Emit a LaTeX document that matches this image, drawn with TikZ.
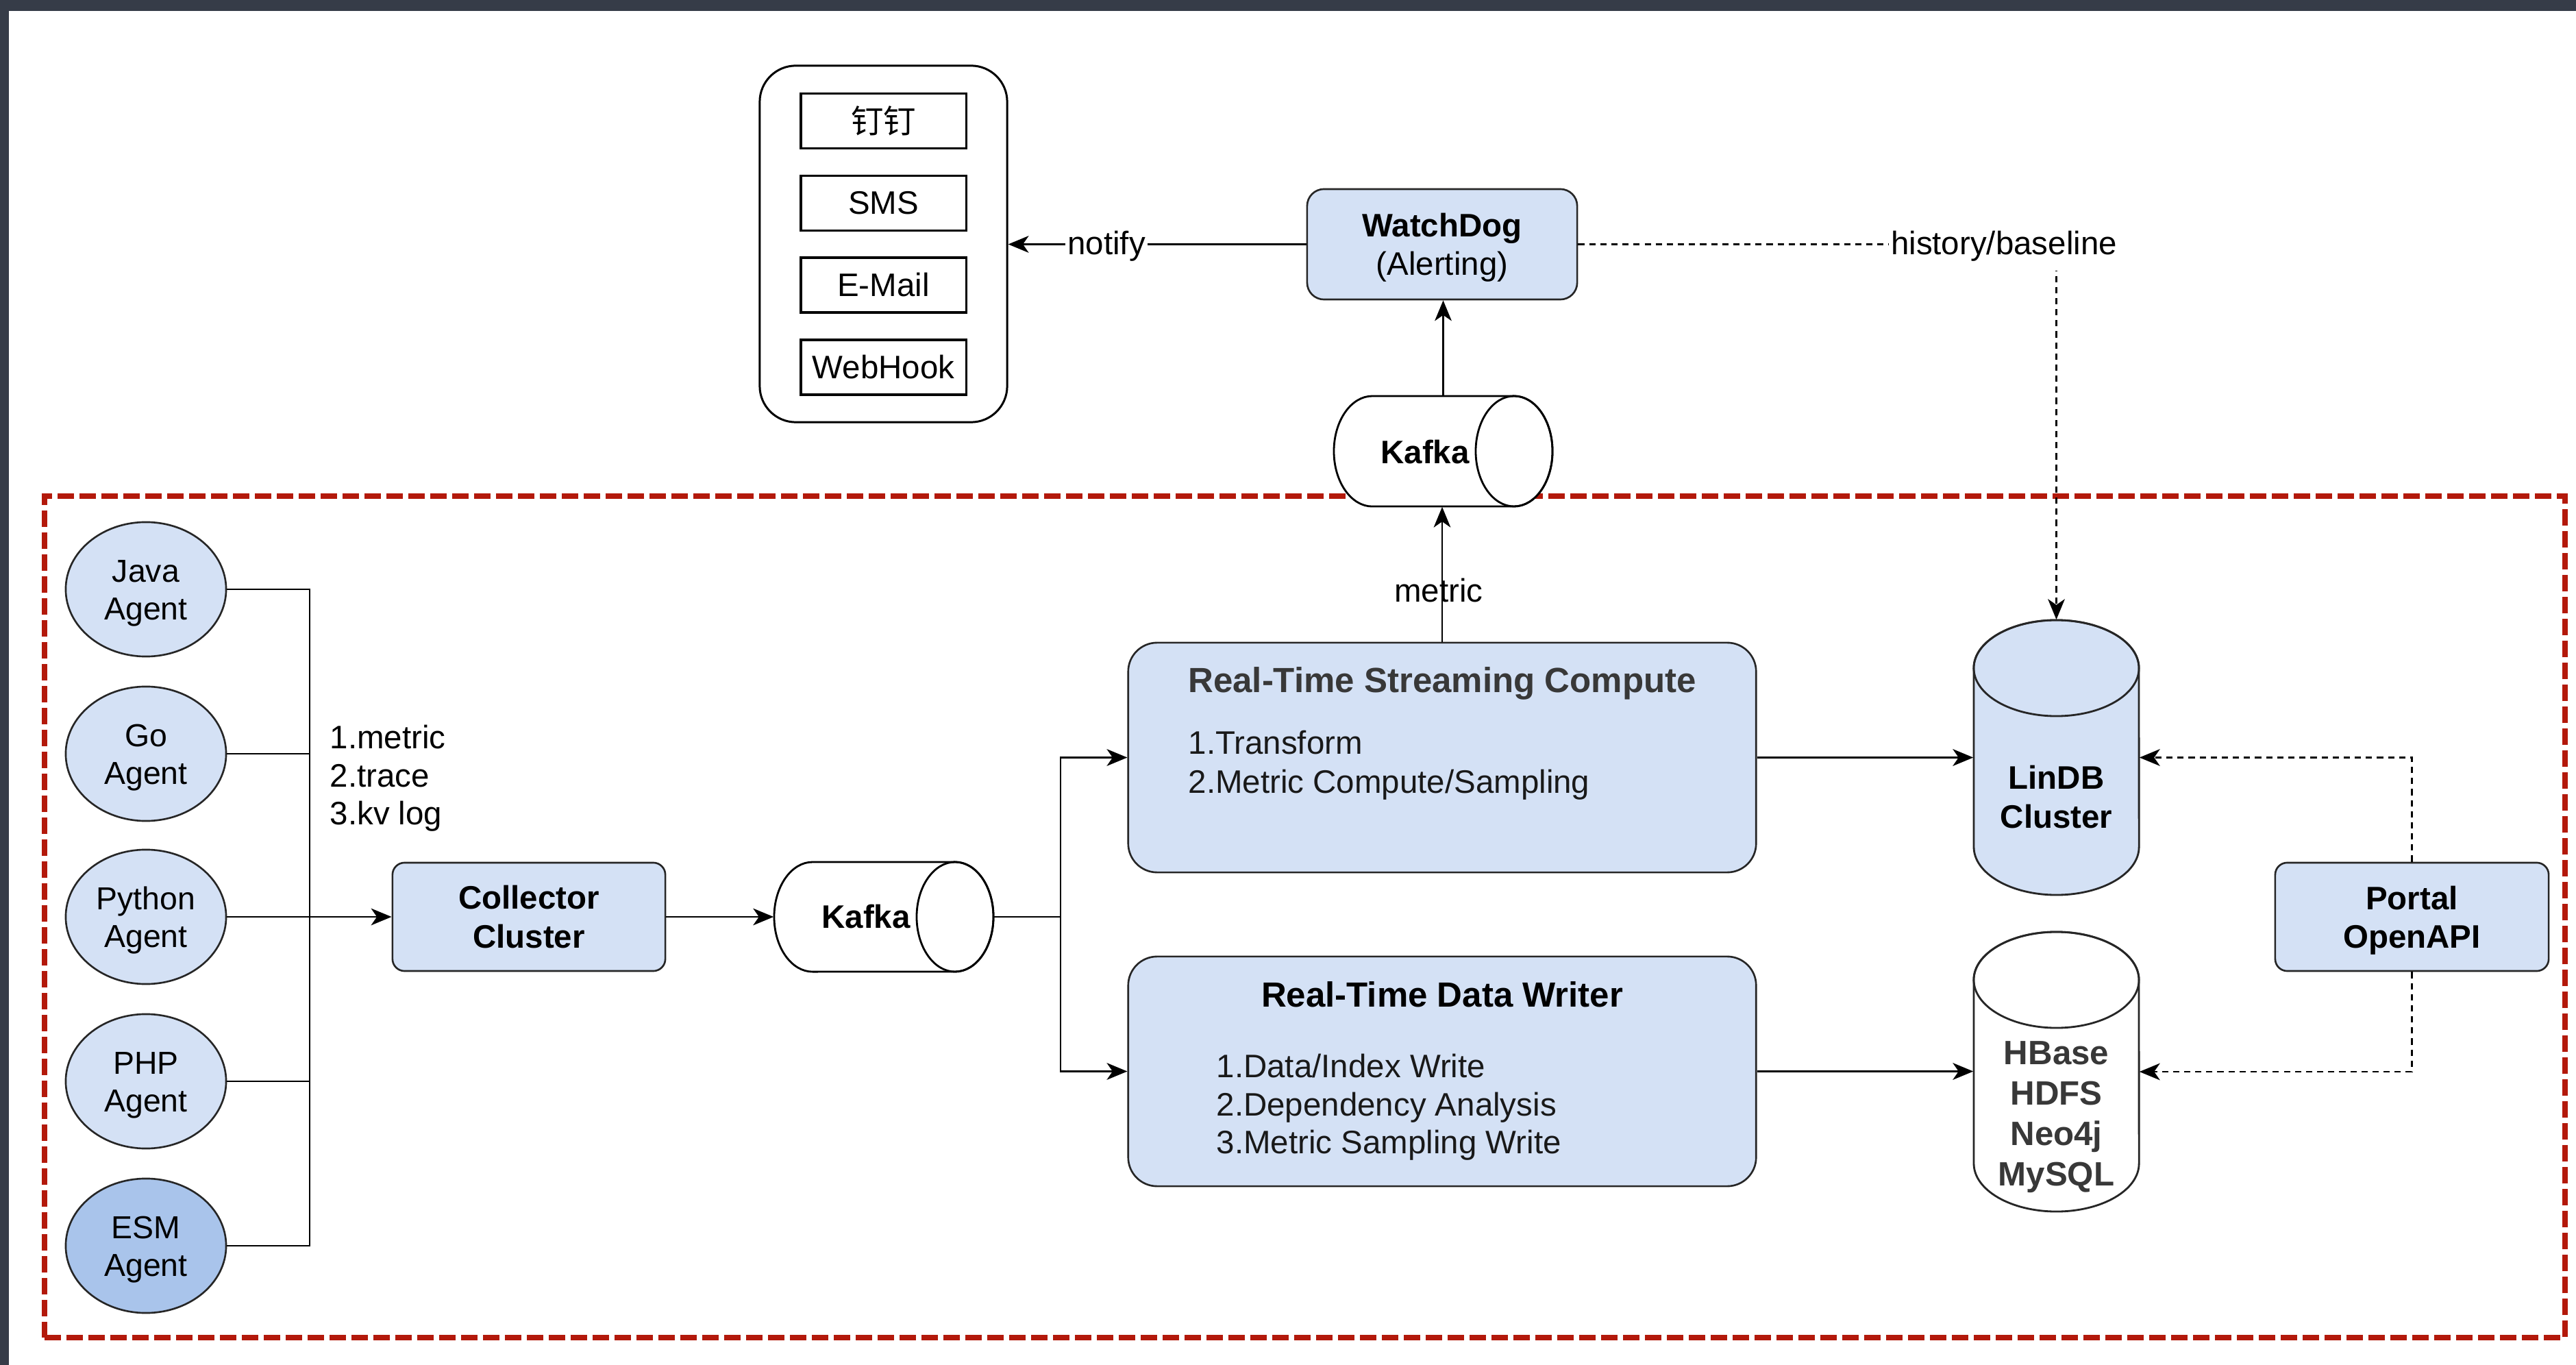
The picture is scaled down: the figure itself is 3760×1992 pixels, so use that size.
\documentclass[tikz,border=0pt]{standalone}
\usepackage{fontspec}
\setmainfont{Liberation Sans}
\newfontfamily\cjkfont{Noto Sans CJK SC}
\usetikzlibrary{arrows.meta,shapes.geometric,calc}
\definecolor{boxblue}{HTML}{D4E1F5}
\definecolor{esmblue}{HTML}{A9C4EB}
\definecolor{redd}{HTML}{B3190B}
\definecolor{darkbar}{HTML}{363C48}
\definecolor{strokec}{HTML}{262626}
\definecolor{titlec}{HTML}{383838}
\newcommand\myfs[2]{\fontsize{#1}{#2}\selectfont}
\newcommand\lowerstrut{\rule{0pt}{12.6pt}}
\tikzset{
  ln/.style={line width=0.8pt, draw=black},
  arr/.style={-{Stealth[length=8.5pt,width=7pt,inset=2.4pt]}},
  dsh/.style={dash pattern=on 2.6pt off 2pt},
  txt/.style={font=\myfs{13.5}{16.2}, align=center, inner sep=0pt},
  agent/.style={ellipse, draw=strokec, line width=0.75pt, fill=boxblue, minimum width=2.34cm, minimum height=1.96cm, inner sep=0pt, align=center, font=\myfs{13.2}{15.6}},
  bluebox/.style={rectangle, draw=strokec, line width=0.75pt, fill=boxblue, rounded corners=5pt, align=center, inner sep=0pt, font=\myfs{13.5}{16}\bfseries},
  chan/.style={rectangle, draw=black, line width=0.9pt, minimum width=2.41cm, minimum height=0.80cm, inner sep=0pt, font=\myfs{13.5}{16}},
  ghost/.style={rectangle, inner sep=0pt, draw=none},
}
\begin{document}
\begin{tikzpicture}[x=0.01cm,y=-0.01cm]
\useasboundingbox (0,0) rectangle (3760,1992);
\fill[white] (0,0) rectangle (3760,1992);
\fill[darkbar] (0,0) rectangle (3760,16);
\fill[darkbar] (0,0) rectangle (13,1992);

% red dashed frame
\node[draw=redd, line width=2.3pt, dash pattern=on 6.8pt off 2.3pt, minimum width=36.77cm, minimum height=12.28cm, inner sep=0pt] (frame) at (1904.5,1338) {};

% notification channels
\node[draw=black, line width=0.85pt, rounded corners=15pt, fill=white, minimum width=3.61cm, minimum height=5.20cm, inner sep=0pt] (notif) at (1289.5,356) {};
\node[chan] (dingding) at (1289.5,176.5) {\cjkfont 钉钉};
\node[chan] (sms) at (1289.5,296.5) {SMS};
\node[chan] (email) at (1289.5,416) {E-Mail};
\node[chan] (webhook) at (1289.5,536) {WebHook};

% WatchDog
\node[bluebox, rounded corners=7pt, minimum width=3.94cm, minimum height=1.61cm] (watchdog) at (2105,356.5) {\lowerstrut WatchDog\\\mdseries(Alerting)};

% Kafka (top) horizontal cylinder
\node[ghost, minimum width=3.19cm, minimum height=1.61cm] (kafkatop) at (2106.5,658.5) {};
\filldraw[ln, fill=white] (2210,578) -- (2003,578) arc[start angle=90, end angle=270, x radius=0.56cm, y radius=0.805cm] -- (2210,739) arc[start angle=-90, end angle=90, x radius=0.56cm, y radius=0.805cm] -- cycle;
\draw[ln] (2210,658.5) ellipse[x radius=0.56cm, y radius=0.805cm];
\node[txt, font=\myfs{13.5}{16}\bfseries] (kafkatoptxt) at (2080,660) {Kafka};

% Agents
\node[agent] (java) at (213,860) {\lowerstrut Java\\Agent};
\node[agent] (go) at (213,1100) {\lowerstrut Go\\Agent};
\node[agent] (python) at (213,1338) {\lowerstrut Python\\Agent};
\node[agent] (php) at (213,1578) {\lowerstrut PHP\\Agent};
\node[agent, fill=esmblue] (esm) at (213,1818) {\lowerstrut ESM\\Agent};
\coordinate (bus) at (452,1338);

\node[txt, align=left, anchor=west, font=\myfs{13.5}{15.8}] (kinds) at (481,1136) {1.metric\\2.trace\\3.kv log};

% Collector
\node[bluebox, minimum width=3.98cm, minimum height=1.58cm] (collector) at (772,1338) {Collector\\Cluster};

% Kafka (middle)
\node[ghost, minimum width=3.2cm, minimum height=1.6cm] (kafkamid) at (1290,1338) {};
\filldraw[ln, fill=white] (1394,1258) -- (1186,1258) arc[start angle=90, end angle=270, x radius=0.56cm, y radius=0.8cm] -- (1394,1418) arc[start angle=-90, end angle=90, x radius=0.56cm, y radius=0.8cm] -- cycle;
\draw[ln] (1394,1338) ellipse[x radius=0.56cm, y radius=0.8cm];
\node[txt, font=\myfs{13.5}{16}\bfseries] (kafkamidtxt) at (1264,1338) {Kafka};
\coordinate (split) at (1548,1338);

% Streaming compute
\node[bluebox, rounded corners=12pt, minimum width=9.16cm, minimum height=3.35cm] (rtsc) at (2105,1105.5) {};
\node[txt, text=titlec, font=\myfs{14.5}{17}\bfseries] (rtsctitle) at (2105,997) {Real-Time Streaming Compute};
\node[txt, align=left, anchor=west, text=black!90] (rtscitems) at (1734,1117) {1.Transform\\2.Metric Compute/Sampling};

% Data writer
\node[bluebox, rounded corners=12pt, minimum width=9.16cm, minimum height=3.35cm] (rtdw) at (2105,1563.5) {};
\node[txt, font=\myfs{14.5}{17}\bfseries] (rtdwtitle) at (2105,1451) {Real-Time Data Writer};
\node[txt, align=left, anchor=west, text=black!90, font=\myfs{13.5}{15.8}] (rtdwitems) at (1775,1616) {1.Data/Index Write\\2.Dependency Analysis\\3.Metric Sampling Write};

% LinDB cylinder
\node[ghost, minimum width=2.41cm, minimum height=4.01cm] (lindb) at (3001.5,1105.5) {};
\filldraw[ln, draw=strokec, fill=boxblue] (2881,975) -- (2881,1236) arc[start angle=180, end angle=360, x radius=1.205cm, y radius=0.70cm] -- (3122,975) arc[start angle=0, end angle=180, x radius=1.205cm, y radius=0.70cm] -- cycle;
\draw[ln, draw=strokec] (3001.5,975) ellipse[x radius=1.205cm, y radius=0.70cm];
\node[txt, font=\myfs{13.5}{16}\bfseries] (lindbtxt) at (3001.5,1163) {LinDB\\Cluster};

% HBase cylinder
\node[ghost, minimum width=2.41cm, minimum height=4.08cm] (hbase) at (3001.5,1564) {};
\filldraw[ln, draw=strokec, fill=white] (2881,1430) -- (2881,1698) arc[start angle=180, end angle=360, x radius=1.205cm, y radius=0.70cm] -- (3122,1430) arc[start angle=0, end angle=180, x radius=1.205cm, y radius=0.70cm] -- cycle;
\draw[ln, draw=strokec] (3001.5,1430) ellipse[x radius=1.205cm, y radius=0.70cm];
\node[txt, text=titlec, font=\myfs{14}{16.8}\bfseries] (hbasetxt) at (3001.5,1630) {HBase\\HDFS\\Neo4j\\MySQL};

% Portal
\node[bluebox, minimum width=3.99cm, minimum height=1.58cm] (portal) at (3520.5,1338) {\lowerstrut Portal\\OpenAPI};

% ---------- connectors ----------
\draw[ln] (java.east) -- (java.east -| bus) -- (esm.east -| bus) -- (esm.east);
\draw[ln] (go.east) -- (go.east -| bus);
\draw[ln] (php.east) -- (php.east -| bus);
\draw[ln, arr] (python.east) -- (collector.west);
\draw[ln, arr] (collector.east) -- (kafkamid.west);
\draw[ln, arr] (kafkamid.east) -- (split) |- (rtsc.west);
\draw[ln, arr] (split) |- (rtdw.west);
\draw[ln, arr] (rtsc.east) -- (lindb.west);
\draw[ln, arr] (rtdw.east) -- (rtdw.east -| hbase.west);
\draw[ln, arr] (rtsc.north) -- (rtsc.north |- kafkatop.south);
\node[txt, font=\myfs{13.5}{16}] (metriclbl) at (2100,862) {metric};
\draw[ln, arr] (kafkatop.north) -- (kafkatop.north |- watchdog.south);
\draw[ln, arr] (watchdog.west) -- (watchdog.west -| notif.east);
\node[txt, fill=white, inner xsep=1pt, inner ysep=2pt, font=\myfs{13.5}{16}] (notifylbl) at (1615,359) {notify};
\draw[ln, dsh, arr] (watchdog.east) -| (lindb.north);
\node[txt, fill=white, inner xsep=1pt, inner ysep=4pt, font=\myfs{13.5}{16}] (histlbl) at (2925,359) {history/baseline};
\draw[ln, dsh, arr] (portal.north) |- (lindb.east);
\draw[ln, dsh, arr] (portal.south) |- (portal.south |- hbase.center) -- (hbase.east |- hbase.center);
\end{tikzpicture}
\end{document}
